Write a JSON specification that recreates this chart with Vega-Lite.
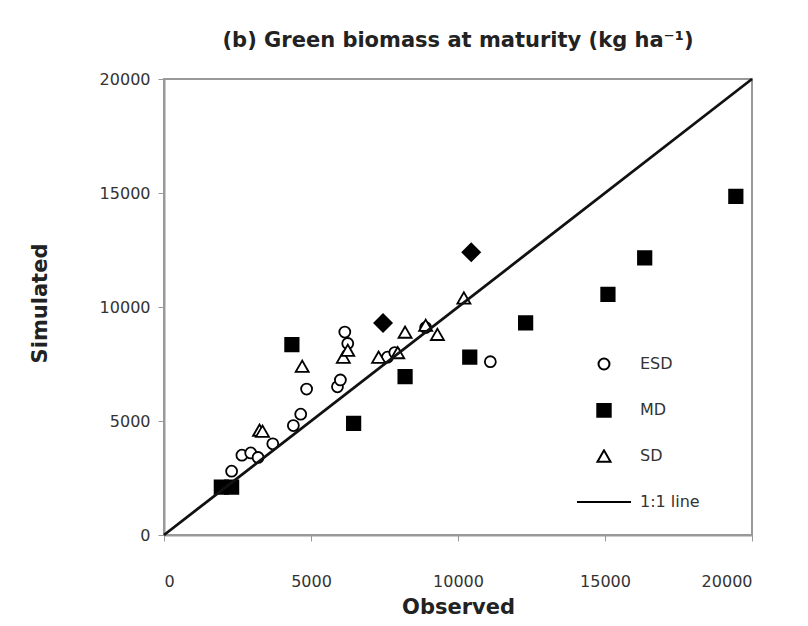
{
  "$schema": "https://vega.github.io/schema/vega-lite/v6.json",
  "width": 588,
  "height": 456,
  "autosize": {"type": "none"},
  "padding": {"left": 164, "top": 79, "right": 56, "bottom": 91},
  "background": "white",
  "config": {
    "view": {"stroke": "#999", "strokeWidth": 2},
    "font": "DejaVu Sans"
  },
  "title": {
    "text": "(b) Green biomass at maturity (kg ha⁻¹)",
    "fontSize": 21,
    "fontWeight": "bold",
    "font": "DejaVu Sans",
    "color": "#222",
    "anchor": "middle",
    "offset": 20
  },
  "datasets": {
    "points": [
      {"series": "ESD", "observed": 2300, "simulated": 2800},
      {"series": "ESD", "observed": 2650, "simulated": 3500},
      {"series": "ESD", "observed": 2950, "simulated": 3600},
      {"series": "ESD", "observed": 3200, "simulated": 3400},
      {"series": "ESD", "observed": 3700, "simulated": 4000},
      {"series": "ESD", "observed": 4400, "simulated": 4800},
      {"series": "ESD", "observed": 4650, "simulated": 5300},
      {"series": "ESD", "observed": 4850, "simulated": 6400},
      {"series": "ESD", "observed": 5900, "simulated": 6500},
      {"series": "ESD", "observed": 6000, "simulated": 6800},
      {"series": "ESD", "observed": 6150, "simulated": 8900},
      {"series": "ESD", "observed": 6250, "simulated": 8400},
      {"series": "ESD", "observed": 7600, "simulated": 7800},
      {"series": "ESD", "observed": 7850, "simulated": 8000},
      {"series": "ESD", "observed": 8900, "simulated": 9100},
      {"series": "ESD", "observed": 11100, "simulated": 7600},
      {"series": "SD", "observed": 3250, "simulated": 4600},
      {"series": "SD", "observed": 3350, "simulated": 4550},
      {"series": "SD", "observed": 4700, "simulated": 7400},
      {"series": "SD", "observed": 6100, "simulated": 7800},
      {"series": "SD", "observed": 6250, "simulated": 8100},
      {"series": "SD", "observed": 7300, "simulated": 7800},
      {"series": "SD", "observed": 7950, "simulated": 8000},
      {"series": "SD", "observed": 8200, "simulated": 8900},
      {"series": "SD", "observed": 8900, "simulated": 9200},
      {"series": "SD", "observed": 9300, "simulated": 8800},
      {"series": "SD", "observed": 10200, "simulated": 10400},
      {"series": "MD", "observed": 1950, "simulated": 2100},
      {"series": "MD", "observed": 2300, "simulated": 2100},
      {"series": "MD", "observed": 4350, "simulated": 8350},
      {"series": "MD", "observed": 6450, "simulated": 4900},
      {"series": "MD", "observed": 8200, "simulated": 6950},
      {"series": "MD", "observed": 10400, "simulated": 7800},
      {"series": "MD", "observed": 12300, "simulated": 9300},
      {"series": "MD", "observed": 15100, "simulated": 10550},
      {"series": "MD", "observed": 16350, "simulated": 12150},
      {"series": "MD", "observed": 19450, "simulated": 14850}
    ],
    "overlaps": [
      {"observed": 7450, "simulated": 9300},
      {"observed": 10450, "simulated": 12400}
    ],
    "oneToOne": [
      {"observed": 0, "simulated": 0},
      {"observed": 20000, "simulated": 20000}
    ]
  },
  "encoding": {
    "x": {
      "field": "observed",
      "type": "quantitative",
      "scale": {"domain": [0, 20000], "nice": false},
      "axis": {
        "title": "Observed",
        "values": [0, 5000, 10000, 15000, 20000],
        "format": "d",
        "grid": false,
        "domainColor": "#999",
        "domainWidth": 2,
        "tickColor": "#999",
        "tickSize": 6,
        "labelPadding": 32,
        "labelFontSize": 16,
        "labelColor": "#333",
        "labelFont": "DejaVu Sans",
        "titleFontSize": 21,
        "titleFontWeight": "bold",
        "titleFont": "DejaVu Sans",
        "titleColor": "#222",
        "titlePadding": 7
      }
    },
    "y": {
      "field": "simulated",
      "type": "quantitative",
      "scale": {"domain": [0, 20000], "nice": false},
      "axis": {
        "title": "Simulated",
        "values": [0, 5000, 10000, 15000, 20000],
        "format": "d",
        "grid": false,
        "domainColor": "#999",
        "domainWidth": 2,
        "tickColor": "#999",
        "tickSize": 6,
        "labelPadding": 8,
        "labelFontSize": 16,
        "labelColor": "#333",
        "labelFont": "DejaVu Sans",
        "titleFontSize": 21,
        "titleFontWeight": "bold",
        "titleFont": "DejaVu Sans",
        "titleColor": "#222",
        "titleX": -114,
        "titleY": 224
      }
    }
  },
  "layer": [
    {
      "data": {"name": "points"},
      "mark": {"type": "point", "filled": true, "stroke": "black", "strokeWidth": 1.8, "opacity": 1},
      "encoding": {
        "shape": {
          "field": "series",
          "type": "nominal",
          "scale": {"domain": ["ESD", "MD", "SD", "1:1 line"], "range": ["circle", "square", "triangle-up", "stroke"]},
          "legend": {
            "title": null,
            "orient": "none",
            "legendX": 412,
            "legendY": 278,
            "padding": 0,
            "clipHeight": 14,
            "rowPadding": 30,
            "labelOffset": 8,
            "labelFontSize": 16,
            "labelFont": "DejaVu Sans",
            "labelColor": "#333",
            "symbolStrokeColor": "black",
            "symbolStrokeWidth": 2,
            "symbolOpacity": 1
          }
        },
        "fill": {
          "field": "series",
          "type": "nominal",
          "scale": {"domain": ["ESD", "MD", "SD", "1:1 line"], "range": ["white", "black", "white", "black"]},
          "legend": {"title": null}
        },
        "size": {
          "field": "series",
          "type": "nominal",
          "scale": {"type": "ordinal", "domain": ["ESD", "MD", "SD", "1:1 line"], "range": [120, 180, 170, 2916]},
          "legend": {"title": null}
        }
      }
    },
    {
      "data": {"name": "overlaps"},
      "mark": {"type": "point", "shape": "diamond", "filled": true, "fill": "black", "stroke": "black", "strokeWidth": 1.5, "size": 320, "opacity": 1},
      "encoding": {}
    },
    {
      "data": {"name": "oneToOne"},
      "mark": {"type": "line", "color": "#111", "strokeWidth": 2.8},
      "encoding": {}
    }
  ]
}
